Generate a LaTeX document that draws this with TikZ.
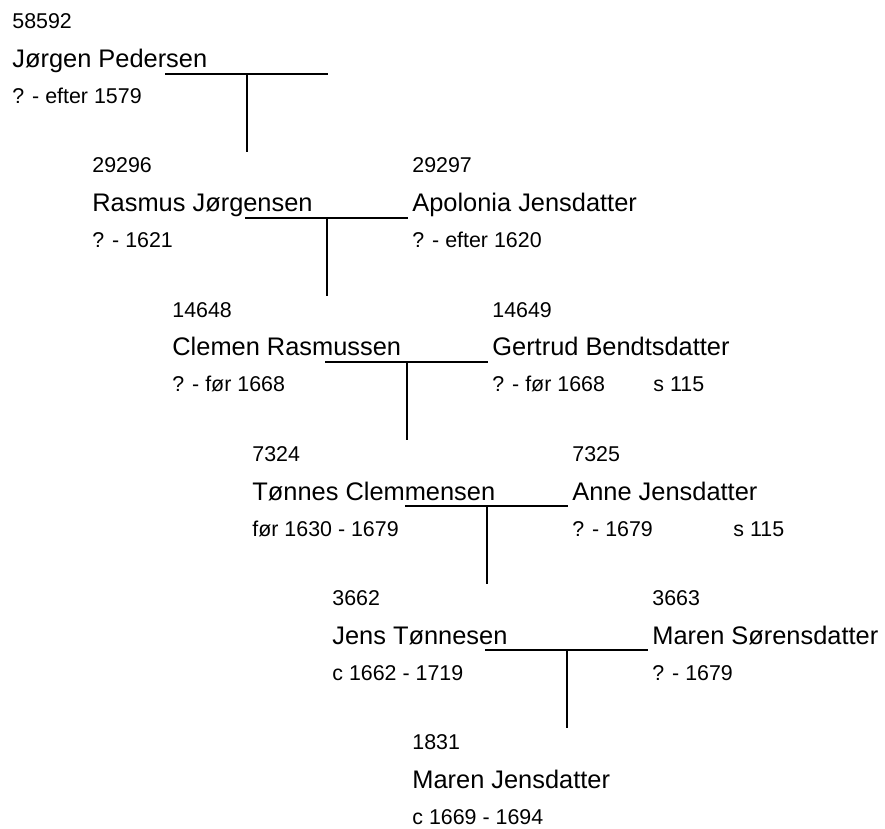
\documentclass[tikz,border=0pt]{standalone}
\usepackage{fontspec}
\setmainfont{Liberation Sans}
\usepackage{tikz}
\usetikzlibrary{positioning}

\tikzset{
    num/.style={anchor=base west,inner sep=0pt,font=\fontsize{10.7}{12}\selectfont},
    pname/.style={anchor=base west,inner sep=0pt,font=\fontsize{12.7}{15}\selectfont},
    life/.style={anchor=base west,inner sep=0pt,font=\fontsize{10.7}{12}\selectfont},
    marriage/.style={line width=1.4pt},
    descent/.style={line width=1.1pt}
}

\begin{document}
\begin{tikzpicture}[x=0.5pt,y=-0.5pt]
    \useasboundingbox (0,0) rectangle (885,829);

    % Jørgen Pedersen
    \node[num] (n0) at (12,29) {58592};
    \node[pname] (p0) at (12,68) {Jørgen Pedersen};
    \node[life] (d0) at (12,104) {? - efter 1579};
    \coordinate (m0l) at (165,74);
    \coordinate (m0r) at (328,74);
    \coordinate (m0c) at (247,74);
    \coordinate (c0) at (247,152);
    \draw[marriage] (m0l) -- (m0r);
    \draw[descent] (m0c) -- (c0);

    % Rasmus Jørgensen + Apolonia Jensdatter
    \node[num] (n1) at (92,173) {29296};
    \node[pname] (p1) at (92,212) {Rasmus Jørgensen};
    \node[life] (d1) at (92,248) {? - 1621};
    \node[num] (sn1) at (412,173) {29297};
    \node[pname] (sp1) at (412,212) {Apolonia Jensdatter};
    \node[life] (sd1) at (412,248) {? - efter 1620};
    \coordinate (m1l) at (245,218);
    \coordinate (m1r) at (408,218);
    \coordinate (m1c) at (327,218);
    \coordinate (c1) at (327,296);
    \draw[marriage] (m1l) -- (m1r);
    \draw[descent] (m1c) -- (c1);

    % Clemen Rasmussen + Gertrud Bendtsdatter
    \node[num] (n2) at (172,317) {14648};
    \node[pname] (p2) at (172,356) {Clemen Rasmussen};
    \node[life] (d2) at (172,392) {? - før 1668};
    \node[num] (sn2) at (492,317) {14649};
    \node[pname] (sp2) at (492,356) {Gertrud Bendtsdatter};
    \node[life] (sd2) at (492,392) {? - før 1668};
    \node[life] (ref2) at (653,392) {s 115};
    \coordinate (m2l) at (325,362);
    \coordinate (m2r) at (488,362);
    \coordinate (m2c) at (407,362);
    \coordinate (c2) at (407,440);
    \draw[marriage] (m2l) -- (m2r);
    \draw[descent] (m2c) -- (c2);

    % Tønnes Clemmensen + Anne Jensdatter
    \node[num] (n3) at (252,461) {7324};
    \node[pname] (p3) at (252,500) {Tønnes Clemmensen};
    \node[life] (d3) at (252,536) {før 1630 - 1679};
    \node[num] (sn3) at (572,461) {7325};
    \node[pname] (sp3) at (572,500) {Anne Jensdatter};
    \node[life] (sd3) at (572,536) {? - 1679};
    \node[life] (ref3) at (733,536) {s 115};
    \coordinate (m3l) at (405,506);
    \coordinate (m3r) at (568,506);
    \coordinate (m3c) at (487,506);
    \coordinate (c3) at (487,584);
    \draw[marriage] (m3l) -- (m3r);
    \draw[descent] (m3c) -- (c3);

    % Jens Tønnesen + Maren Sørensdatter
    \node[num] (n4) at (332,605) {3662};
    \node[pname] (p4) at (332,644) {Jens Tønnesen};
    \node[life] (d4) at (332,680) {c 1662 - 1719};
    \node[num] (sn4) at (652,605) {3663};
    \node[pname] (sp4) at (652,644) {Maren Sørensdatter};
    \node[life] (sd4) at (652,680) {? - 1679};
    \coordinate (m4l) at (485,650);
    \coordinate (m4r) at (648,650);
    \coordinate (m4c) at (567,650);
    \coordinate (c4) at (567,728);
    \draw[marriage] (m4l) -- (m4r);
    \draw[descent] (m4c) -- (c4);

    % Maren Jensdatter
    \node[num] (n5) at (412,749) {1831};
    \node[pname] (p5) at (412,788) {Maren Jensdatter};
    \node[life] (d5) at (412,824) {c 1669 - 1694};
\end{tikzpicture}
\end{document}
